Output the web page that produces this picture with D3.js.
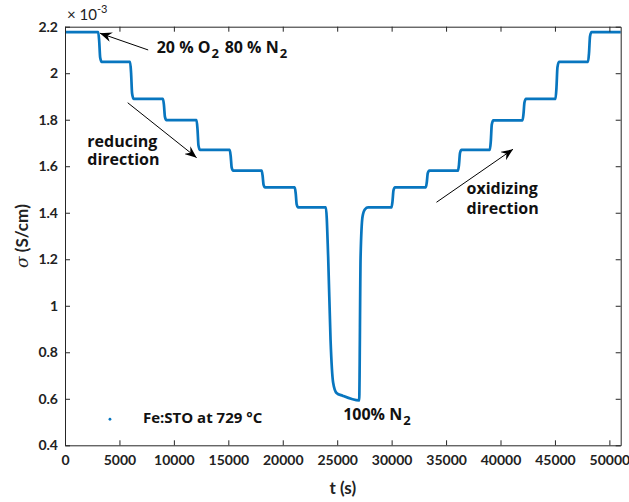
<!DOCTYPE html>
<html>
<head>
<meta charset="utf-8">
<script src="https://cdn.jsdelivr.net/npm/d3@7"></script>
<style>
  body { margin: 0; background: #fff; }
  text { font-family: Lato, "Noto Sans", sans-serif; }
</style>
</head>
<body>
<svg id="chart" width="629" height="502"></svg>
<script>
// conductivity trace, sigma in units of 1e-3 S/cm
var times = [0, 3050, 3140, 3230, 3370,
  5980, 6070, 6160, 6300,
  9000, 9090, 9180, 9320,
  12080, 12170, 12260, 12400,
  15130, 15220, 15310, 15450,
  18060, 18150, 18240, 18380,
  21100, 21190, 21280, 21420,
  23960, 24170, 24390, 24630, 24940, 25500, 27020,
  27150, 27330, 27550, 27840,
  29990, 30080, 30170, 30310,
  33140, 33230, 33320, 33460,
  36100, 36190, 36280, 36420,
  39020, 39110, 39200, 39340,
  42020, 42110, 42200, 42340,
  45050, 45140, 45230, 45370,
  48040, 48130, 48220, 48360,
  51040];
var sigma = [2.177, 2.177, 2.139, 2.068, 2.049,
  2.049, 2.001, 1.914, 1.890,
  1.890, 1.862, 1.812, 1.798,
  1.798, 1.760, 1.689, 1.670,
  1.670, 1.643, 1.594, 1.581,
  1.581, 1.559, 1.520, 1.509,
  1.509, 1.483, 1.436, 1.423,
  1.423, 1.212, 0.854, 0.669, 0.625, 0.613, 0.593,
  1.212, 1.384, 1.415, 1.423,
  1.423, 1.449, 1.496, 1.509,
  1.509, 1.531, 1.570, 1.581,
  1.581, 1.608, 1.657, 1.670,
  1.670, 1.708, 1.779, 1.797,
  1.797, 1.824, 1.874, 1.890,
  1.890, 1.938, 2.025, 2.049,
  2.049, 2.087, 2.158, 2.177,
  2.177];

var xTicks = d3.range(0, 50001, 5000);
var yTicks = [0.4, 0.6, 0.8, 1, 1.2, 1.4, 1.6, 1.8, 2, 2.2];

var svg = d3.select("#chart");
var dim = { left: 65, right: 8.3, top: 26.7, bottom: 56.7, w: 629, h: 502 };
var blue = "#0876BF", axisColor = "#262626";
var noteFont = "'Open Sans', Lato, sans-serif";

var xScale = d3.scaleLinear().domain([0, 51040]).range([dim.left, dim.w - dim.right]);
var yScale = d3.scaleLinear().domain([0.4, 2.2]).range([dim.h - dim.bottom, dim.top]);

// defs for MATLAB-ish arrowhead
svg.append("defs").append("marker")
   .attr("id", "head")
   .attr("viewBox", "0 0 12 10")
   .attr("refX", 12).attr("refY", 5)
   .attr("markerWidth", 12).attr("markerHeight", 10)
   .attr("markerUnits", "userSpaceOnUse")
   .attr("orient", "auto")
   .append("path")
   .attr("d", "M0,0 L12,5 L0,10 L4,5 Z")
   .attr("fill", "#000");

// data line
var data = times.map(function(t, i) { return { t: t, s: sigma[i] }; });
var line = d3.line()
             .x(function(d) { return xScale(d.t); })
             .y(function(d) { return yScale(d.s); })
             .curve(d3.curveMonotoneX);
svg.append("path")
   .datum(data)
   .attr("d", line)
   .attr("fill", "none")
   .attr("stroke", blue)
   .attr("stroke-width", 2.7)
   .attr("stroke-linejoin", "round");

// axes: ticks inside on all four sides
var xB = d3.axisBottom(xScale).tickValues(xTicks).tickSizeInner(-5).tickSizeOuter(0).tickPadding(10).tickFormat(d3.format("d"));
var xT = d3.axisTop(xScale).tickValues(xTicks).tickSizeInner(-5).tickSizeOuter(0).tickFormat("");
var yL = d3.axisLeft(yScale).tickValues(yTicks).tickSizeInner(-5).tickSizeOuter(0).tickPadding(7).tickFormat(function(d) { return d3.format("~g")(d); });
var yR = d3.axisRight(yScale).tickValues(yTicks).tickSizeInner(-5).tickSizeOuter(0).tickFormat("");

function styleAxis(g) {
  g.selectAll("path").attr("stroke", axisColor);
  g.selectAll("line").attr("stroke", axisColor);
  g.selectAll("text").attr("fill", "#222").style("font-size", "14px").style("font-weight", "bold")
   .style("font-family", "Lato, sans-serif");
}
svg.append("g").attr("transform", "translate(0," + (dim.h - dim.bottom) + ")").call(xB).call(styleAxis);
svg.append("g").attr("transform", "translate(0," + dim.top + ")").call(xT).call(styleAxis);
svg.append("g").attr("transform", "translate(" + dim.left + ",0)").call(yL).call(styleAxis);
svg.append("g").attr("transform", "translate(" + (dim.w - dim.right) + ",0)").call(yR).call(styleAxis);

// exponent label
var ex = svg.append("text").attr("x", dim.left + 2).attr("y", dim.top - 7)
   .attr("fill", "#222").style("font-size", "15px");
ex.append("tspan").text("\u00d7 10");
ex.append("tspan").attr("dy", -7).style("font-size", "11px").text("-3");

// axis labels
svg.append("text")
   .attr("x", (dim.left + dim.w - dim.right) / 2).attr("y", 494)
   .attr("text-anchor", "middle")
   .style("font-size", "17px").style("font-weight", "bold").attr("fill", "#222")
   .text("t (s)");
var yl = svg.append("text")
   .attr("transform", "translate(28," + ((dim.top + dim.h - dim.bottom) / 2) + ") rotate(-90)")
   .attr("text-anchor", "middle")
   .style("font-size", "17px").style("font-weight", "bold").attr("fill", "#222");
yl.append("tspan").style("font-family", "'DejaVu Serif', serif").style("font-style", "italic").style("font-weight", "normal").text("\u03c3");
yl.append("tspan").text(" (S/cm)");

// annotations (data units); parts are strings or {lower: "2"} subscripts
function note(t, s, parts) {
  var txt = svg.append("text").attr("x", xScale(t)).attr("y", yScale(s))
     .style("font-family", noteFont)
     .style("font-size", "16px").style("font-weight", "bold").attr("fill", "#111");
  parts.forEach(function(p) {
    if (typeof p === "string") {
      txt.append("tspan").text(p);
    } else {
      txt.append("tspan").attr("dx", 1).attr("dy", 5).style("font-size", "13px").text(p.lower);
      txt.append("tspan").attr("dy", -5).text("\u200a");
    }
  });
  return txt;
}
function arrow(t0, s0, t1, s1) {
  svg.append("line")
     .attr("x1", xScale(t0)).attr("y1", yScale(s0))
     .attr("x2", xScale(t1)).attr("y2", yScale(s1))
     .attr("stroke", "#000").attr("stroke-width", 1)
     .attr("marker-end", "url(#head)");
}

note(8420, 2.088, ["20 % O", { lower: "2" }, " 80 % N", { lower: "2" }]);
arrow(7640, 2.100, 3210, 2.172);

note(2050, 1.684, ["reducing"]);
note(2050, 1.605, ["direction"]);
arrow(5760, 1.873, 12090, 1.637);

note(36880, 1.479, ["oxidizing"]);
note(36880, 1.395, ["direction"]);
arrow(34120, 1.445, 41150, 1.673);

note(25550, 0.509, ["100% N", { lower: "2" }]);

// legend
svg.append("circle").attr("cx", xScale(4130)).attr("cy", yScale(0.512)).attr("r", 1.4).attr("fill", blue);
svg.append("text").attr("x", xScale(7160)).attr("y", yScale(0.497))
   .style("font-family", noteFont)
   .style("font-size", "15px").style("font-weight", "bold").attr("fill", "#111")
   .text("Fe:STO at 729 \u00b0C");
</script>
</body>
</html>
